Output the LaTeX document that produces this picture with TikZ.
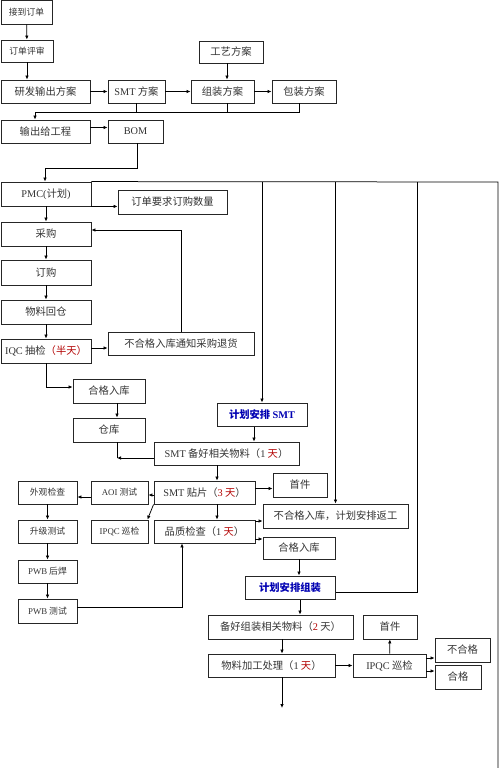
\documentclass[tikz,border=0pt]{standalone}
\usepackage{fontspec}
\setmainfont{Noto Sans CJK SC}
\newfontfamily\lat{Liberation Serif}
\usetikzlibrary{arrows.meta,positioning,calc}

\newcommand{\en}[1]{{\lat #1}}
\newcommand{\hot}[1]{\textcolor{red!70!black}{#1}}

\begin{document}
\begin{tikzpicture}[x=1pt,y=-1pt,
    task/.style = {draw=black!85, line width=0.85pt, inner sep=0pt, minimum height=23pt, text=black!80, font=\fontsize{10.3}{12}\selectfont},
    small/.style = {task, font=\fontsize{8.8}{10}\selectfont},
    plan/.style = {task, line width=1pt, text=blue!70!black, font=\fontsize{10.3}{12}\selectfont\bfseries},
    flow/.style = {-{Latex[length=4pt,width=3.5pt]}, line width=0.75pt},
    wire/.style = {line width=0.75pt}
    ]
    \useasboundingbox (0,0) rectangle (500,768);

    \node[small, minimum width=51pt, minimum height=24pt] (recv) at (26.5,12) {接到订单};
    \node[small, minimum width=52pt, minimum height=22pt] (review) at (27,51) {订单评审};
    \node[task, minimum width=89pt] (rd) at (45.5,91.5) {研发输出方案};
    \node[task, minimum width=57pt] (smtplan) at (136.5,91.5) {\en{SMT} 方案};
    \node[task, minimum width=63pt] (asmplan) at (222.5,91.5) {组装方案};
    \node[task, minimum width=64pt] (pkgplan) at (304,91.5) {包装方案};
    \node[task, minimum width=64pt, minimum height=22pt] (proc) at (231,52) {工艺方案};
    \node[task, minimum width=89pt] (toeng) at (45.5,131.5) {输出给工程};
    \node[task, minimum width=55pt] (bom) at (135.5,131.5) {\en{BOM}};

    \node[task, minimum width=90pt, minimum height=24pt] (pmc) at (46,194) {\en{PMC(}计划\en{)}};
    \node[task, minimum width=109pt, minimum height=24pt] (qty) at (172.5,202) {订单要求订购数量};
    \node[task, minimum width=90pt, minimum height=24pt] (buy) at (46,234) {采购};
    \node[task, minimum width=90pt, minimum height=25pt] (order) at (46,272.5) {订购};
    \node[task, minimum width=90pt, minimum height=24pt] (back) at (46,312) {物料回仓};
    \node[task, minimum width=90pt, minimum height=24pt] (iqc) at (46,351) {\en{IQC} 抽检\hot{（半天）}};
    \node[task, minimum width=146pt] (reject) at (181,343.5) {不合格入库通知采购退货};
    \node[task, minimum width=72pt, minimum height=24pt] (ok1) at (109,391) {合格入库};
    \node[task, minimum width=72pt, minimum height=24pt] (store) at (109,430) {仓库};

    \node[plan, minimum width=90pt] (plansmt) at (262,414.5) {计划安排 \en{SMT}};
    \node[task, minimum width=145pt] (smtprep) at (226.5,453.5) {\en{SMT} 备好相关物料（\en{1} \hot{天}）};
    \node[task, minimum width=101pt] (mount) at (204.5,492.5) {\en{SMT} 贴片（\hot{\en{3} 天}）};
    \node[task, minimum width=54pt, minimum height=24pt] (first1) at (300,485) {首件};
    \node[small, minimum width=57pt] (aoi) at (119.5,492.5) {\en{AOI} 测试};
    \node[small, minimum width=59pt] (look) at (47.5,492.5) {外观检查};
    \node[small, minimum width=57pt] (ipqc1) at (119.5,531.5) {\en{IPQC} 巡检};
    \node[task, minimum width=101pt] (qc) at (204.5,531.5) {品质检查（\en{1} \hot{天}）};
    \node[task, minimum width=145pt, minimum height=24pt] (rework) at (335.5,516) {不合格入库，计划安排返工};
    \node[task, minimum width=72pt, minimum height=22pt] (ok2) at (299,548) {合格入库};
    \node[small, minimum width=59pt] (upgrade) at (47.5,531.5) {升级测试};
    \node[small, minimum width=59pt] (solder) at (47.5,571.5) {\en{PWB} 后焊};
    \node[small, minimum width=59pt, minimum height=24pt] (pwbtest) at (47.5,611) {\en{PWB} 测试};

    \node[plan, minimum width=90pt] (planasm) at (290,587.5) {计划安排组装};
    \node[task, minimum width=145pt, minimum height=24pt] (asmprep) at (280.5,627) {备好组装相关物料（\hot{\en{2}} 天）};
    \node[task, minimum width=127pt] (work) at (271.5,665.5) {物料加工处理（\en{1} \hot{天}）};
    \node[task, minimum width=73pt] (ipqc2) at (389.5,665.5) {\en{IPQC} 巡检};
    \node[task, minimum width=54pt, minimum height=24pt] (first2) at (390,627) {首件};
    \node[task, minimum width=55pt, minimum height=24pt] (ng) at (462.5,650) {不合格};
    \node[task, minimum width=46pt, minimum height=24pt] (pass) at (458,677) {合格};

    \coordinate (join) at (35,112);
    \coordinate (bend) at (45,168);
    \coordinate (busTop) at (498,182);
    \coordinate (busEnd) at (498,768);
    \coordinate (busC) at (417,182);
    \coordinate (merge) at (117,458);
    \coordinate (out) at (282,708);

    \draw[flow] (recv) -- (review);
    \draw[flow] (review) -- (review |- rd.north);
    \draw[flow] (rd) -- (smtplan);
    \draw[flow] (smtplan) -- (asmplan);
    \draw[flow] (asmplan) -- (pkgplan);
    \draw[flow] ([xshift=-4pt]proc.south) -- ([xshift=-4pt]proc.south |- asmplan.north);
    \draw[wire] (smtplan.south) -- (smtplan.south |- join);
    \draw[wire] ([xshift=4.5pt]asmplan.south) -- ([xshift=4.5pt]asmplan.south |- join);
    \draw[wire] ([xshift=-5pt]pkgplan.south) -- ([xshift=-5pt]pkgplan.south |- join) -- (join);
    \draw[flow] (join) -- (join |- toeng.north);
    \draw[flow] ([yshift=4pt]toeng.east) -- ([yshift=4pt]toeng.east -| bom.west);
    \draw[flow] ([xshift=1.5pt]bom.south) |- (bend) -- (bend |- pmc.north);

    \draw[flow] (pmc.south east) -- (pmc.south east -| qty.west);
    \draw[flow] (pmc) -- (buy);
    \draw[flow] (buy) -- (order);
    \draw[flow] (order) -- (back);
    \draw[flow] (back) -- (iqc);
    \draw[flow] ([yshift=3pt]iqc.east) -- ([yshift=3pt]iqc.east -| reject.west);
    \draw[flow] (reject.north) |- ([yshift=4pt]buy.east);
    \draw[flow] (iqc.south) |- ([yshift=4pt]ok1.west);
    \draw[flow] ([xshift=8pt]ok1.south) -- ([xshift=8pt]store.north);
    \draw[wire] ([xshift=8pt]store.south) -- (merge);
    \draw[flow] (smtprep.west |- merge) -- (merge);

    \draw[wire] (pmc.north east) -- (busTop) -- (busEnd);
    \draw[flow] (plansmt.north |- busTop) -- (plansmt.north);
    \draw[flow] (rework.north |- busTop) -- (rework.north);
    \draw[wire] (busC) |- ([yshift=-4.5pt]planasm.east);

    \draw[flow] ([xshift=-8pt]plansmt.south) -- ([xshift=-8pt]plansmt.south |- smtprep.north);
    \draw[flow] ([xshift=12.5pt]mount.north |- smtprep.south) -- ([xshift=12.5pt]mount.north);
    \draw[flow] ([yshift=4pt]mount.east) -- ([yshift=4pt]mount.east -| first1.west);
    \draw[flow] ([yshift=-2.5pt]mount.west) -- ([yshift=-2.5pt]aoi.east);
    \draw[flow] ([yshift=-4.5pt]aoi.west) -- ([yshift=-4.5pt]look.east);
    \draw[flow] (mount.south west) -- ([xshift=-1pt]ipqc1.north east);
    \draw[flow] ([xshift=12.5pt]mount.south) -- ([xshift=12.5pt]qc.north);
    \draw[flow] (look) -- (upgrade);
    \draw[flow] (upgrade) -- (solder);
    \draw[flow] (solder) -- (pwbtest);
    \draw[flow] ([yshift=4pt]pwbtest.east) -| ([xshift=-22.5pt]qc.south);
    \draw[flow] ([yshift=10.5pt]qc.east) -- ([yshift=10.5pt]qc.east -| rework.west);
    \draw[flow] ([yshift=-7.5pt]qc.east) -- ([yshift=-7.5pt]qc.east -| ok2.west);
    \draw[flow] (ok2.south) -- (ok2.south |- planasm.north);

    \draw[flow] ([xshift=10pt]planasm.south) -- ([xshift=10pt]planasm.south |- asmprep.north);
    \draw[flow] ([xshift=10.5pt]work.north |- asmprep.south) -- ([xshift=10.5pt]work.north);
    \draw[flow] (work.south -| out) -- (out);
    \draw[flow] (work) -- (ipqc2);
    \draw[flow] (ipqc2) -- (first2);
    \draw[flow] ([yshift=7.5pt]ipqc2.east) -- ([yshift=7.5pt]ipqc2.east -| ng.west);
    \draw[flow] ([yshift=-5.5pt]ipqc2.east) -- ([yshift=-5.5pt]ipqc2.east -| pass.west);
\end{tikzpicture}
\end{document}
